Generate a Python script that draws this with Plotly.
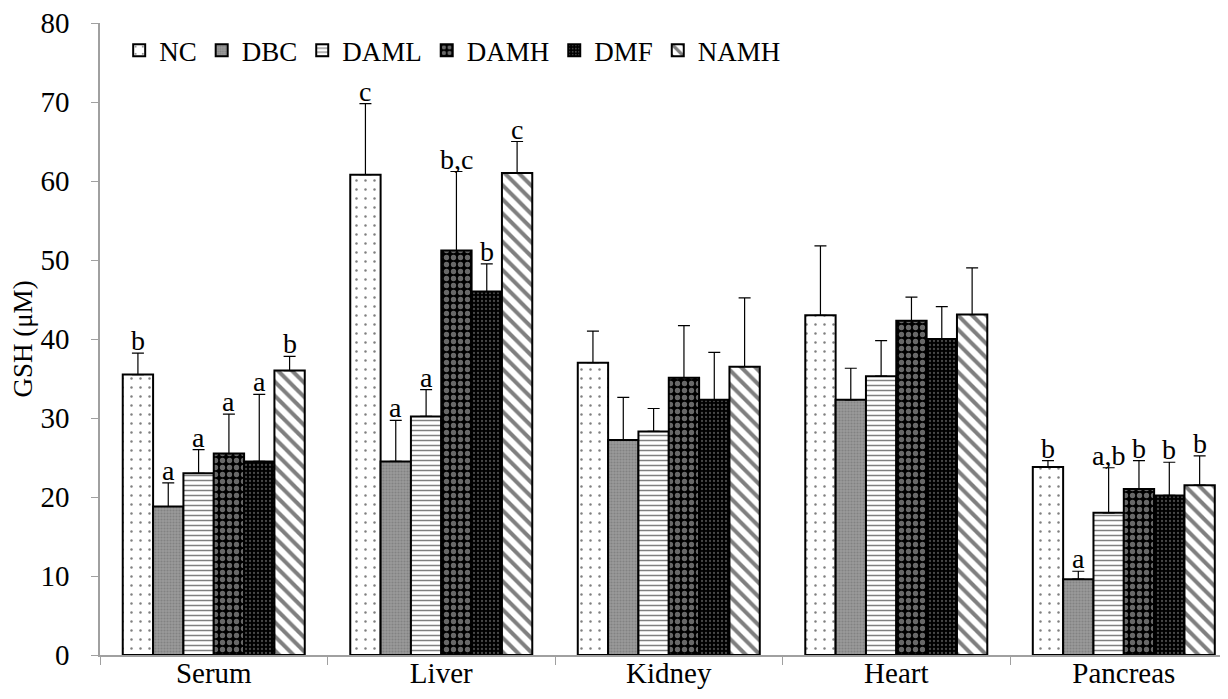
import plotly.graph_objects as go

categories = ["Serum", "Liver", "Kidney", "Heart", "Pancreas"]
groups = ["NC", "DBC", "DAML", "DAMH", "DMF", "NAMH"]

NC = [35.5, 60.8, 37.0, 43.0, 23.8]
DBC = [18.8, 24.5, 27.2, 32.3, 9.6]
DAML = [23.0, 30.2, 28.3, 35.3, 18.0]
DAMH = [25.5, 51.2, 35.1, 42.3, 21.0]
DMF = [24.5, 46.0, 32.3, 40.0, 20.2]
NAMH = [36.0, 61.0, 36.5, 43.1, 21.5]

NC_err = [2.7, 9.0, 4.0, 8.8, 0.8]
DBC_err = [3.0, 5.2, 5.4, 4.0, 1.0]
DAML_err = [3.0, 3.4, 2.9, 4.5, 5.7]
DAMH_err = [5.0, 10.0, 6.6, 3.0, 3.6]
DMF_err = [8.5, 3.5, 6.0, 4.1, 4.2]
NAMH_err = [1.8, 4.0, 8.7, 5.9, 3.7]

NC_sig = ["b", "c", "", "", "b"]
DBC_sig = ["a", "a", "", "", "a"]
DAML_sig = ["a", "a", "", "", "a,b"]
DAMH_sig = ["a", "b,c", "", "", "b"]
DMF_sig = ["a", "b", "", "", "b"]
NAMH_sig = ["b", "c", "", "", "b"]

values = [NC, DBC, DAML, DAMH, DMF, NAMH]
errors = [NC_err, DBC_err, DAML_err, DAMH_err, DMF_err, NAMH_err]
sigs = [NC_sig, DBC_sig, DAML_sig, DAMH_sig, DMF_sig, NAMH_sig]

styles = [
    dict(color="white", pattern=dict(shape=".", fgcolor="black", bgcolor="white", size=9, solidity=0.06)),
    dict(color="#8a8a8a", pattern=dict(shape=".", fgcolor="#6a6a6a", bgcolor="#9a9a9a", size=3, solidity=0.4)),
    dict(color="white", pattern=dict(shape="-", fgcolor="black", bgcolor="white", size=5, solidity=0.3)),
    dict(color="black", pattern=dict(shape=".", fgcolor="#d0d0d0", bgcolor="black", size=7, solidity=0.45)),
    dict(color="black", pattern=dict(shape=".", fgcolor="#909090", bgcolor="black", size=4, solidity=0.25)),
    dict(color="white", pattern=dict(shape="\\", fgcolor="black", bgcolor="white", size=10, solidity=0.4)),
]

FONT = "Liberation Serif, Times New Roman, serif"
bargap = 0.2

fig = go.Figure()
for g, v, e, st in zip(groups, values, errors, styles):
    fig.add_trace(go.Bar(
        name=g, x=categories, y=v,
        marker=dict(color=st["color"], pattern=st["pattern"], line=dict(color="black", width=2)),
        error_y=dict(type="data", symmetric=False, array=e, arrayminus=[0] * len(e),
                     color="black", thickness=1.2, width=6),
    ))

n = len(groups)
w = (1 - bargap) / n
annotations = []
for gi, (v, e, s) in enumerate(zip(values, errors, sigs)):
    for ci in range(len(categories)):
        if s[ci]:
            annotations.append(dict(
                x=ci - (1 - bargap) / 2 + w * (gi + 0.5), y=v[ci] + e[ci],
                xref="x", yref="y", text=s[ci], showarrow=False,
                yanchor="bottom", yshift=-5,
                font=dict(family=FONT, size=28, color="black"),
            ))

# page body has an 8px margin, so the figure is sized to end at the window edge
fig.update_layout(
    width=1220, height=691,
    margin=dict(l=92, r=0, t=15, b=44, autoexpand=False),
    paper_bgcolor="white", plot_bgcolor="white",
    barmode="group", bargap=bargap, bargroupgap=0,
    font=dict(family=FONT, color="black"),
    showlegend=True,
    legend=dict(orientation="h", x=0.017, y=0.995, xanchor="left", yanchor="top",
                font=dict(family=FONT, size=27, color="black"), itemwidth=30, tracegroupgap=0,
                bgcolor="rgba(0,0,0,0)"),
    annotations=annotations,
)
fig.update_xaxes(
    type="category", range=[-0.5, 4.458], automargin=False,
    showline=True, linecolor="#a0a0a0", linewidth=1.5,
    ticks="outside", tickson="boundaries", ticklen=8, tickcolor="#a0a0a0",
    ticklabelstandoff=-9, ticklabeloverflow="allow",
    tickfont=dict(family=FONT, size=29, color="black"), showgrid=False,
)
fig.update_yaxes(
    range=[0, 80], dtick=10, automargin=False,
    showline=True, linecolor="#a0a0a0", linewidth=1.5,
    ticks="outside", ticklen=7, tickcolor="#a0a0a0", ticklabelstandoff=16,
    ticklabeloverflow="allow",
    tickfont=dict(family=FONT, size=29, color="black"), showgrid=False, zeroline=False,
    title=dict(text="GSH (μM)", font=dict(family=FONT, size=27, color="black"), standoff=10),
)

fig.write_html("out.html")
